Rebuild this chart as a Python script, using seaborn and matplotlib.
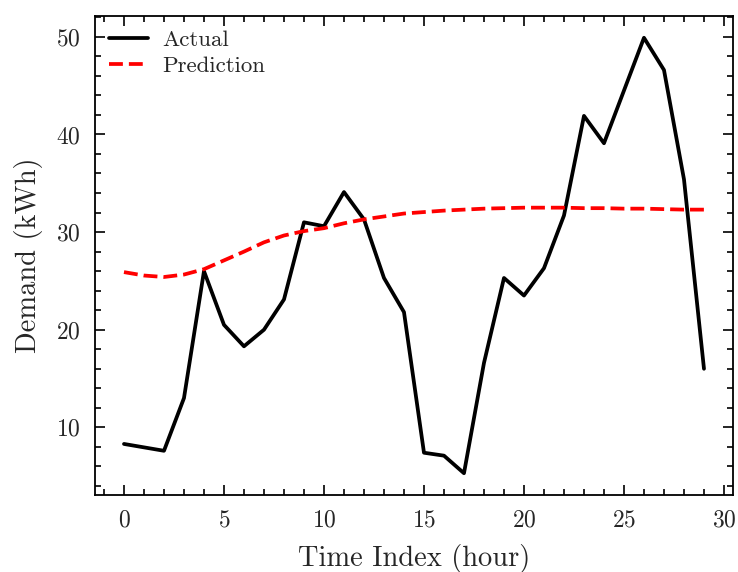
#!/usr/bin/python3

# libraries
import matplotlib
matplotlib.use('Agg')

import matplotlib.pyplot as plt
import numpy as np
import pandas as pd
import seaborn as sns
from matplotlib.ticker import MultipleLocator

# Data
hours = list(range(30))
actual = [8.3, 7.95, 7.6, 13.0, 26.0, 20.5, 18.3, 20.0, 23.1, 31.0,
          30.6, 34.1, 31.3, 25.3, 21.8, 7.4, 7.1, 5.3, 16.6, 25.3,
          23.5, 26.3, 31.7, 41.9, 39.1, 44.5, 49.9, 46.6, 35.4, 16.0]
prediction = [25.9, 25.55, 25.4, 25.65, 26.2, 27.1, 28.0, 28.95, 29.65, 30.1,
              30.4, 30.9, 31.3, 31.6, 31.9, 32.05, 32.2, 32.3, 32.4, 32.45,
              32.5, 32.5, 32.5, 32.45, 32.45, 32.4, 32.4, 32.35, 32.3, 32.3]

df = pd.DataFrame({"hour": hours, "Actual": actual, "Prediction": prediction})

sns.set_style("ticks")
plt.rcParams['font.family'] = 'serif'
plt.rcParams['font.serif'] = ['cmr10']
plt.rcParams['axes.formatter.use_mathtext'] = True
plt.rcParams['mathtext.fontset'] = 'cm'

fig = plt.figure(figsize=(7.38, 5.72), dpi=100)
ax = fig.add_axes([0.1287, 0.1346, 0.8645, 0.8374])

sns.lineplot(data=df, x="hour", y="Actual", color="black", linewidth=2.7,
             label="Actual", ax=ax)
sns.lineplot(data=df, x="hour", y="Prediction", color="red", linewidth=2.7,
             linestyle="--", label="Prediction", ax=ax)

ax.set_xlabel("Time Index (hour)", fontsize=20.5, labelpad=9)
ax.set_ylabel("Demand (kWh)", fontsize=20.5, labelpad=10)
ax.set_xticks([0, 5, 10, 15, 20, 25, 30])
ax.set_yticks([10, 20, 30, 40, 50])
ax.xaxis.set_minor_locator(MultipleLocator(1))
ax.yaxis.set_minor_locator(MultipleLocator(2))
ax.margins(x=0.05, y=0.05)

for s in ax.spines.values():
    s.set_linewidth(1.3)
    s.set_color("black")
ax.tick_params(which="both", direction="in", top=True, right=True,
               width=1.2, color="black", labelsize=17, pad=10)
ax.tick_params(which="major", length=7.5)
ax.tick_params(which="minor", length=4)

ax.legend(loc="upper left", frameon=False, fontsize=16.5, handlelength=1.7,
          handletextpad=0.65, borderaxespad=0.2, labelspacing=0.25)

plt.savefig("out.png", dpi=100)
